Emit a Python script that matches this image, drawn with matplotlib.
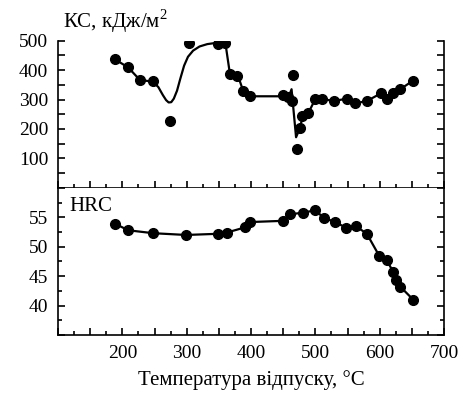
import matplotlib
matplotlib.use("Agg")
import matplotlib.pyplot as plt
from matplotlib.ticker import MultipleLocator, FuncFormatter

plt.rcParams['font.family'] = ['Liberation Serif', 'DejaVu Serif']
plt.rcParams['mathtext.fontset'] = 'custom'
plt.rcParams['mathtext.rm'] = 'Liberation Serif'

# impact strength KC, measured points
kc_temp = [188, 209, 227, 248, 274, 303, 349, 360, 367, 378, 388, 399,
           450, 458, 463, 465, 471, 476, 480, 489, 500, 510, 529, 549,
           562, 580, 602, 611, 621, 632, 651]
kc_vals = [437, 409, 367, 364, 227, 491, 487, 493, 386, 380, 328, 311,
           314, 308, 294, 383, 131, 203, 243, 254, 302, 302, 295, 303,
           287, 295, 321, 302, 321, 335, 363]

# KC trend curve as drawn in the source
kc_fit_temp = [188, 209, 227, 248, 256, 263, 268, 272, 276, 280, 285, 290,
               296, 302, 310, 320, 332, 345, 360, 367, 380, 388, 399, 450,
               458, 463, 470, 476, 480, 489, 500, 510, 529, 549, 562, 580,
               602, 611, 621, 632, 651]
kc_fit_vals = [437, 409, 367, 360, 342, 315, 298, 290, 291, 303, 330, 370,
               415, 445, 466, 480, 488, 492, 494, 390, 379, 328, 311, 311,
               306, 335, 172, 203, 240, 254, 302, 302, 295, 303, 287, 295,
               321, 302, 321, 335, 363]

# hardness HRC
hrc_temp = [189, 209, 248, 299, 349, 362, 391, 399, 449, 460, 481, 500,
            513, 531, 548, 563, 580, 599, 611, 621, 626, 632, 652]
hrc_vals = [53.9, 52.8, 52.3, 52.0, 52.2, 52.4, 53.3, 54.2, 54.4, 55.5, 55.8, 56.2,
            54.9, 54.2, 53.2, 53.5, 52.2, 48.5, 47.7, 45.7, 44.4, 43.2, 41.0]

fig = plt.figure(figsize=(4.64, 3.94), dpi=100)
ax1 = fig.add_axes([0.125, 0.523, 0.832, 0.374])
ax2 = fig.add_axes([0.125, 0.150, 0.832, 0.373])

ax1.plot(kc_fit_temp, kc_fit_vals, color='black', lw=1.6)
ax1.plot(kc_temp, kc_vals, 'o', color='black', ms=7)
ax2.plot(hrc_temp, hrc_vals, '-o', color='black', lw=1.6, ms=7)

for ax in (ax1, ax2):
    ax.set_xlim(100, 700)
    ax.xaxis.set_major_locator(MultipleLocator(50))
    ax.xaxis.set_minor_locator(MultipleLocator(25))
    ax.tick_params(which='both', direction='in', right=True, labelsize=14,
                   width=1.2, colors='black')
    ax.tick_params(which='major', length=5, pad=7)
    ax.tick_params(which='minor', length=3)
    for s in ax.spines.values():
        s.set_linewidth(1.2)

ax1.set_ylim(0, 500)
ax1.yaxis.set_major_locator(MultipleLocator(50))
ax1.yaxis.set_major_formatter(FuncFormatter(lambda v, p: f"{v:.0f}" if v % 100 == 0 and v > 0 else ""))
ax1.spines['top'].set_visible(False)
ax1.tick_params(axis='x', labelbottom=False)
ax1.text(0.012, 1.086, "КС, кДж/м$^{2}$", transform=ax1.transAxes, fontsize=15,
         ha='left', va='baseline')

ax2.set_ylim(35, 60)
ax2.yaxis.set_major_locator(MultipleLocator(5))
ax2.yaxis.set_minor_locator(MultipleLocator(2.5))
ax2.yaxis.set_major_formatter(FuncFormatter(lambda v, p: f"{v:.0f}" if 35 < v < 60 else ""))
ax2.spines['top'].set_visible(False)
ax2.xaxis.set_major_formatter(FuncFormatter(lambda v, p: f"{v:.0f}" if v % 100 == 0 and v >= 200 else ""))
ax2.text(0.03, 0.94, "HRC", transform=ax2.transAxes, fontsize=15,
         ha='left', va='top')
ax2.set_xlabel("Температура відпуску, °C", fontsize=15, labelpad=6)

fig.savefig("out.png", dpi=100)
